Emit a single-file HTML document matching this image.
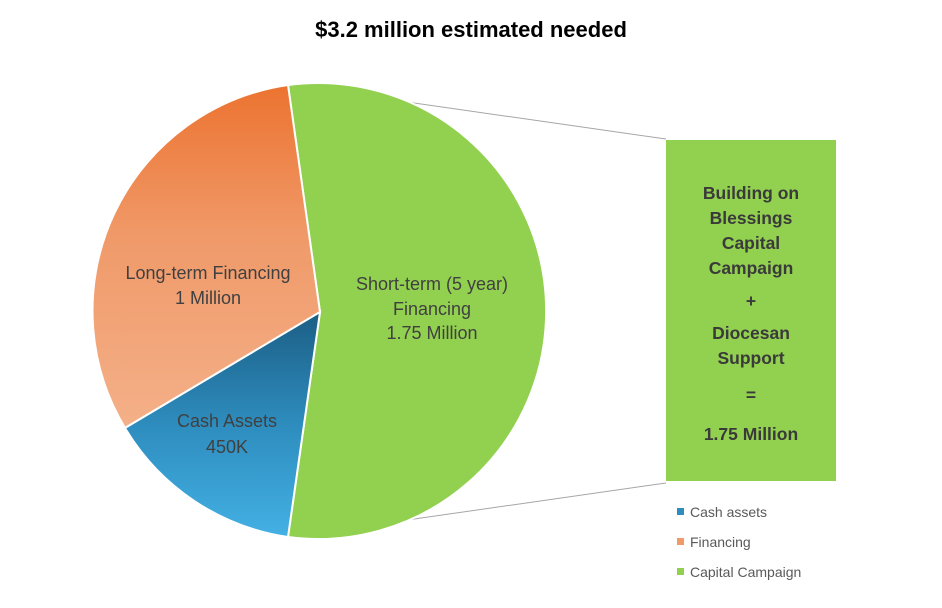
<!DOCTYPE html>
<html><head><meta charset="utf-8"><style>
html,body{margin:0;padding:0;background:#fff;}
svg{display:block;font-family:"Liberation Sans",sans-serif;}
</style></head><body>
<svg width="942" height="608" viewBox="0 0 942 608" xmlns="http://www.w3.org/2000/svg">
<defs>
<linearGradient id="og" x1="0" y1="85" x2="0" y2="428" gradientUnits="userSpaceOnUse">
<stop offset="0" stop-color="#EC7330"/><stop offset="0.45" stop-color="#F09A6A"/><stop offset="1" stop-color="#F4B088"/></linearGradient>
<linearGradient id="bg" x1="0" y1="312" x2="0" y2="540" gradientUnits="userSpaceOnUse">
<stop offset="0" stop-color="#1B5E85"/><stop offset="0.5" stop-color="#2E8DBE"/><stop offset="1" stop-color="#44B1E5"/></linearGradient>
</defs>
<text x="471" y="37" text-anchor="middle" font-size="22" font-weight="bold" fill="#000">$3.2 million estimated needed</text>
<line x1="288" y1="85" x2="666" y2="139" stroke="#A6A6A6" stroke-width="1"/>
<line x1="288" y1="537" x2="666" y2="483" stroke="#A6A6A6" stroke-width="1"/>
<path d="M320,312 L288,85 A228,228 0 1 1 288,537 Z" fill="#92D050" stroke="#fff" stroke-width="2"/>
<path d="M320,312 L125,428 A228,228 0 0 1 288,85 Z" fill="url(#og)" stroke="#fff" stroke-width="2"/>
<path d="M320,312 L288,537 A228,228 0 0 1 125,428 Z" fill="url(#bg)" stroke="#fff" stroke-width="2"/>
<g font-size="18" fill="#404040" text-anchor="middle">
<text x="208" y="279">Long-term Financing</text>
<text x="208" y="304">1 Million</text>
<text x="432" y="290">Short-term (5 year)</text>
<text x="432" y="315">Financing</text>
<text x="432" y="339">1.75 Million</text>
<text x="227" y="427">Cash Assets</text>
<text x="227" y="453">450K</text>
</g>
<rect x="666" y="140" width="170" height="341" fill="#92D050"/>
<g font-size="17.5" font-weight="bold" fill="#3A3A3A" text-anchor="middle">
<text x="751" y="199">Building on</text>
<text x="751" y="224">Blessings</text>
<text x="751" y="249">Capital</text>
<text x="751" y="274">Campaign</text>
<text x="751" y="307">+</text>
<text x="751" y="339">Diocesan</text>
<text x="751" y="364">Support</text>
<text x="751" y="401">=</text>
<text x="751" y="440">1.75 Million</text>
</g>
<rect x="677" y="508" width="7" height="7" fill="#2E8DBE"/>
<rect x="677" y="538" width="7" height="7" fill="#F09A6A"/>
<rect x="677" y="568" width="7" height="7" fill="#92D050"/>
<g font-size="14" fill="#595959">
<text x="690" y="517">Cash assets</text>
<text x="690" y="547">Financing</text>
<text x="690" y="577">Capital Campaign</text>
</g>
</svg>
</body></html>
